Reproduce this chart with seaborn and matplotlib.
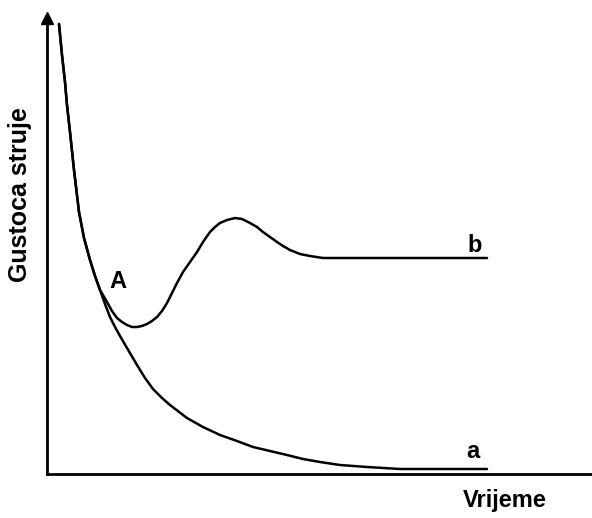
import matplotlib
matplotlib.use("Agg")
import matplotlib.pyplot as plt
import pandas as pd
import seaborn as sns

# ---- Data (arbitrary units: time, current density) ----
time_a = [12, 15, 18, 20, 23, 27, 32, 37, 43, 48, 53, 58, 63, 68, 73, 80, 90, 98, 106, 115,
          123, 140, 156, 173, 190, 206, 223, 240, 256, 273, 293, 320, 353, 440]
current_a = [450, 419, 392, 369, 342, 304, 262, 236, 214, 198, 184, 170, 157, 147, 138, 126,
             109, 96, 85, 76, 69, 56, 47, 39, 33, 27, 23, 19, 15, 12, 9, 7, 5, 5]

time_b = [12, 15, 18, 20, 23, 27, 32, 37, 43, 48, 53, 56, 60, 65, 70, 75, 80, 85, 90, 95,
          100, 105, 110, 115, 120, 125, 130, 136, 143, 150, 156, 163, 168, 173, 180, 188,
          195, 203, 210, 216, 223, 230, 236, 243, 253, 263, 276, 293, 440]
current_b = [450, 419, 392, 369, 342, 304, 262, 236, 214, 198, 184, 179, 172, 163, 156, 152,
             149, 147, 147, 148, 150, 153, 157, 163, 171, 181, 191, 202, 212, 222, 232, 242,
             247, 251, 254, 256, 255, 251, 247, 242, 237, 232, 228, 224, 220, 218, 216, 216, 216]

W, H = 592, 518

sns.set_style("white")
plt.rcParams['font.family'] = ['Liberation Sans', 'DejaVu Sans']
plt.rcParams['text.color'] = 'black'

fig = plt.figure(figsize=(W / 100, H / 100), dpi=100)
ax = fig.add_axes([47 / W, (H - 474) / H, (W - 47) / W, (474 - 18) / H])

df_a = pd.DataFrame({'t': time_a, 'j': current_a})
df_b = pd.DataFrame({'t': time_b, 'j': current_b})
for df in [df_a, df_b]:
    sns.lineplot(data=df, x='t', y='j', sort=False, estimator=None, color='black', lw=1.8,
                 solid_joinstyle='round', solid_capstyle='round', ax=ax)

ax.set_xlim(0, W - 47)
ax.set_ylim(0, 474 - 18)
ax.set_xticks([])
ax.set_yticks([])
ax.set_xlabel('')
ax.set_ylabel('')
for side in ['top', 'right']:
    ax.spines[side].set_visible(False)
for side in ['left', 'bottom']:
    ax.spines[side].set_color('black')
    ax.spines[side].set_linewidth(2)

# arrow head on the y axis
ax.plot(0, 1, marker='^', color='black', markersize=8, transform=ax.transAxes, clip_on=False)

# curve labels
ax.text(71, 192, 'A', fontsize=17, fontweight='bold', ha='center', va='center', color='black')
ax.text(426, 22, 'a', fontsize=17, fontweight='bold', ha='center', va='center', color='black')
ax.text(428, 229, 'b', fontsize=17, fontweight='bold', ha='center', va='center', color='black')

fig.text(505 / W, 1 - 500 / H, 'Vrijeme', fontsize=17, fontweight='bold', ha='center',
         va='center', color='black')
fig.text(20 / W, 1 - 195 / H, 'Gustoca struje', fontsize=18, fontweight='bold',
         ha='center', va='center', rotation=90, color='black')

fig.savefig('out.png', dpi=100, facecolor='white')
